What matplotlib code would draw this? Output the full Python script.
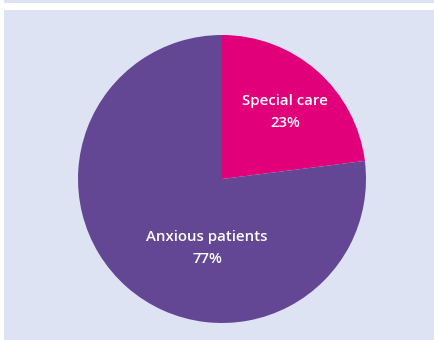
import matplotlib.pyplot as plt
from matplotlib.patches import Rectangle

# Share of patients by referral reason
labels = ["Special care", "Anxious patients"]
shares = [23, 77]
colors = ["#E2007A", "#634795"]

W, H = 434, 340
fig = plt.figure(figsize=(W / 100, H / 100), dpi=100)
fig.patch.set_facecolor("white")

# background panel and thin top rule
fig.add_artist(Rectangle((4 / W, 0), 1, (H - 10) / H, transform=fig.transFigure,
                         facecolor="#DDE3F3", edgecolor="none", zorder=0))
fig.add_artist(Rectangle((4 / W, (H - 3) / H), 1, 3 / H, transform=fig.transFigure,
                         facecolor="#DDE3F3", edgecolor="none", zorder=0))

cx, cy, r = 222, 179, 144
ax = fig.add_axes([(cx - r) / W, (H - cy - r) / H, 2 * r / W, 2 * r / H])
ax.set_facecolor("none")

wedges, _ = ax.pie(shares, colors=colors, startangle=90, counterclock=False,
                   wedgeprops=dict(linewidth=0))
ax.set_xlim(-1, 1)
ax.set_ylim(-1, 1)
ax.set_aspect("equal")
ax.axis("off")

font = dict(family=["Open Sans", "DejaVu Sans"], color="white",
            fontsize=10.8, fontweight="semibold", ha="center", va="center",
            linespacing=1.75)
label_pos = [(285, 112), (207, 248)]
for name, val, (px, py) in zip(labels, shares, label_pos):
    fig.text(px / W, 1 - py / H, f"{name}\n{val}%", **font)

fig.savefig("out.png", dpi=100)
